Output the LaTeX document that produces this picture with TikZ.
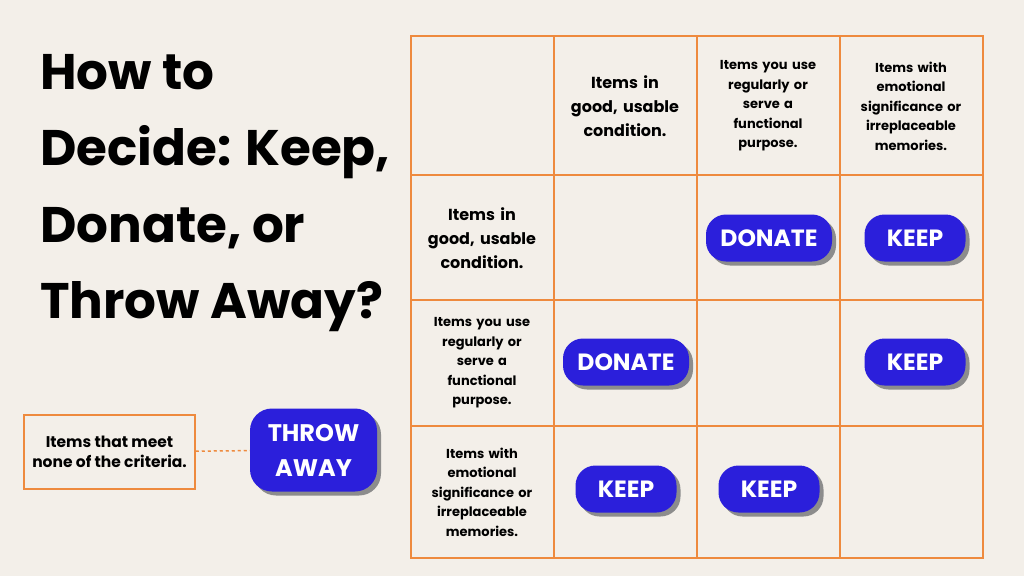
\documentclass[tikz,border=0pt]{standalone}
\usepackage{fontspec}
\setmainfont{Poppins}
\usetikzlibrary{positioning,shadows}
\definecolor{bgcol}{HTML}{F3EFE9}
\definecolor{gridcol}{HTML}{EE8A3E}
\definecolor{pillcol}{HTML}{2B1FDB}
\begin{document}
\begin{tikzpicture}[x=1pt,y=-1pt,
            cell text/.style={align=center,font=\fontsize{16}{24}\selectfont\bfseries,text width=135pt},
            small text/.style={cell text,font=\fontsize{13}{19.5}\selectfont\bfseries},
            pill/.style={rounded corners=20pt,fill=pillcol,text=white,font=\fontsize{23.5}{30}\selectfont\bfseries,
              minimum height=47pt,drop shadow={shadow xshift=4pt,shadow yshift=-4pt,fill=black!45,opacity=1}},
            ]
            \fill[bgcol] (0,0) rectangle (1024,576);
            \useasboundingbox (0,0) rectangle (1024,576);

            % grid
            \draw[gridcol,line width=1.5pt] (411,36) rectangle (983,558);
            \foreach \x in {554,697,840} \draw[gridcol,line width=1.5pt] (\x,36) -- (\x,558);
            \foreach \y in {175,300,426} \draw[gridcol,line width=1.5pt] (411,\y) -- (983,\y);

            % title
            \node[anchor=north west,align=left,font=\fontsize{50}{76.5}\selectfont\bfseries,inner sep=0pt] (title) at (40,54)
              {How to\\Decide: Keep,\\Donate, or\\Throw Away?};

            % headers
            \node[cell text] (h1) at (625,106) {Items in\\good, usable\\condition.};
            \node[small text] (h2) at (768,106) {Items you use\\regularly or\\serve a\\functional\\purpose.};
            \node[small text] (h3) at (911,106) {Items with\\emotional\\significance or\\irreplaceable\\memories.};
            \node[cell text] (r1) at (482,238) {Items in\\good, usable\\condition.};
            \node[small text] (r2) at (482,363) {Items you use\\regularly or\\serve a\\functional\\purpose.};
            \node[small text] (r3) at (482,492) {Items with\\emotional\\significance or\\irreplaceable\\memories.};

            % decisions
            \node[pill,minimum width=126pt] (d12) at (769,238) {DONATE};
            \node[pill,minimum width=101pt] (k13) at (915,238) {KEEP};
            \node[pill,minimum width=126pt] (d21) at (626,362) {DONATE};
            \node[pill,minimum width=101pt] (k23) at (915,362) {KEEP};
            \node[pill,minimum width=101pt] (k31) at (626,489) {KEEP};
            \node[pill,minimum width=101pt] (k32) at (769,489) {KEEP};

            % none of the criteria
            \node[draw=gridcol,line width=1.5pt,fill=bgcol,minimum width=171pt,minimum height=74pt,
              align=center,font=\fontsize{15.5}{20}\selectfont\bfseries] (none) at (109.5,452) {Items that meet\\none of the criteria.};
            \node[pill,minimum width=127pt,minimum height=83pt,align=center,rounded corners=22pt,
              font=\fontsize{24}{35}\selectfont\bfseries] (throw) at (313.5,450) {THROW\\AWAY};
            \draw[gridcol,line width=1.5pt,dashed] (none) -- (throw);
        \end{tikzpicture}
\end{document}
